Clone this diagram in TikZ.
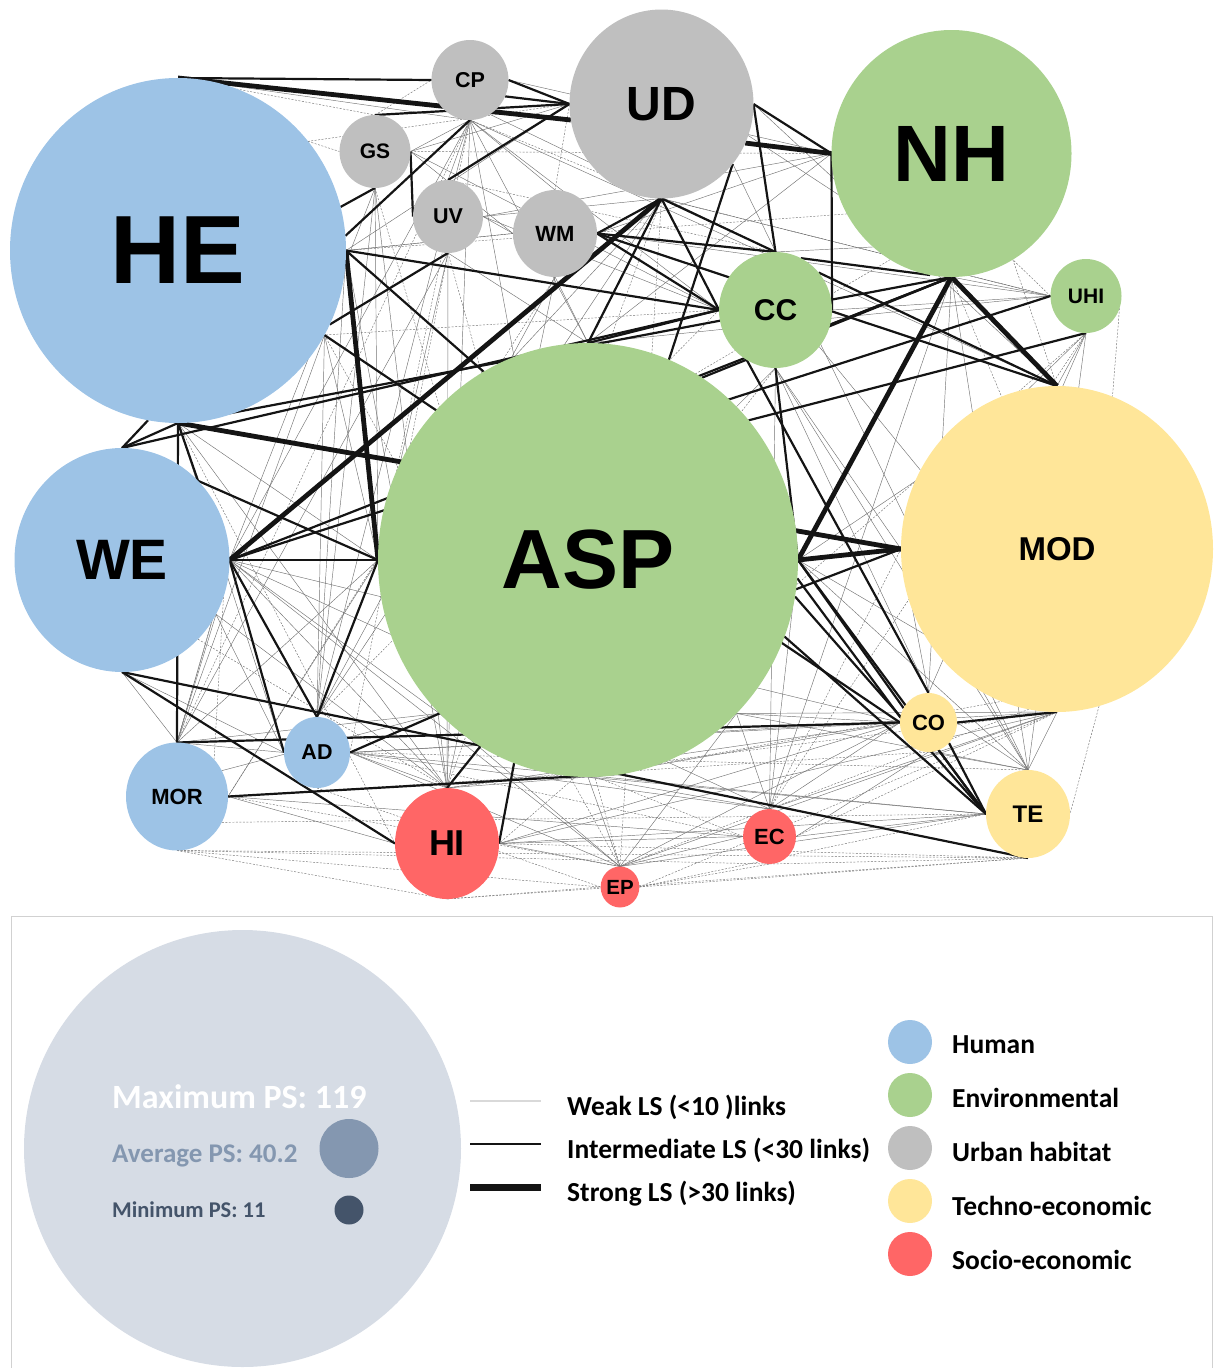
\documentclass[tikz,border=0pt]{standalone}
\usepackage{fontspec}
\usetikzlibrary{shapes.geometric}
\newfontfamily\labfont{Liberation Sans}
\newfontfamily\legfont{Carlito}
\definecolor{human}{HTML}{9DC3E6}
\definecolor{envir}{HTML}{A9D18E}
\definecolor{urban}{HTML}{BFBFBF}
\definecolor{techno}{HTML}{FFE699}
\definecolor{socio}{HTML}{FF6666}
\definecolor{legbg}{HTML}{D6DCE5}
\definecolor{avgc}{HTML}{8497B0}
\definecolor{minc}{HTML}{44546A}
\pgfdeclarelayer{bg}
\pgfsetlayers{bg,main}
\newcommand\nfs[1]{\labfont\bfseries\fontsize{#1}{#1}\selectfont}
\newcommand\lgf[1]{\legfont\bfseries\fontsize{#1}{#1}\selectfont}
\begin{document}
\begin{tikzpicture}[x=1pt,y=-1pt,
  bub/.style={ellipse, inner sep=0pt, outer sep=0pt, draw=none},
  weak/.style={draw=black!55, line width=0.45pt},
  weakd/.style={draw=black!55, line width=0.45pt, dash pattern=on 2pt off 1.5pt},
  mid/.style={draw=black!92, line width=2.2pt},
  strong/.style={draw=black!92, line width=4.8pt},
  legtxt/.style={anchor=base west, inner sep=0pt, font=\lgf{27.5}, text=black}]
\useasboundingbox (0,0) rectangle (1214,1368);

% ---------- nodes ----------
\node[bub, fill=human, minimum width=336pt, minimum height=345pt, font=\nfs{97}] (HE) at (178,250.5) {HE};
\node[bub, fill=urban, minimum width=77pt, minimum height=80pt, font=\nfs{21.5}] (CP) at (470,80) {CP};
\node[bub, fill=urban, minimum width=71pt, minimum height=73pt, font=\nfs{21}] (GS) at (375,151.5) {GS};
\node[bub, fill=urban, minimum width=70pt, minimum height=73pt, font=\nfs{21.5}] (UV) at (448,216.5) {UV};
\node[bub, fill=urban, minimum width=84pt, minimum height=87pt, font=\nfs{22}] (WM) at (555,233.5) {WM};
\node[bub, fill=urban, minimum width=184pt, minimum height=189pt, font=\nfs{48}] (UD) at (661.5,104) {UD};
\node[bub, fill=envir, minimum width=240pt, minimum height=247pt, font=\nfs{80}] (NH) at (951.5,153.5) {NH};
\node[bub, fill=envir, minimum width=113pt, minimum height=116pt, font=\nfs{30}] (CC) at (775.5,310) {CC};
\node[bub, fill=envir, minimum width=71pt, minimum height=74pt, font=\nfs{21}] (UHI) at (1086,296) {UHI};
\node[bub, fill=envir, minimum width=420pt, minimum height=434pt, font=\nfs{84}] (ASP) at (588,560) {ASP};
\node[bub, fill=techno, minimum width=312pt, minimum height=326pt, font=\nfs{33}] (MOD) at (1057,549) {MOD};
\node[bub, fill=human, minimum width=215pt, minimum height=224pt, font=\nfs{57}] (WE) at (122,560) {WE};
\node[bub, fill=human, minimum width=66pt, minimum height=71pt, font=\nfs{21.5}] (AD) at (317,752.5) {AD};
\node[bub, fill=human, minimum width=102pt, minimum height=108pt, font=\nfs{22}] (MOR) at (177,796.5) {MOR};
\node[bub, fill=socio, minimum width=104pt, minimum height=111pt, font=\nfs{36}] (HI) at (447,843.5) {HI};
\node[bub, fill=socio, minimum width=38pt, minimum height=41pt, font=\nfs{20.5}] (EP) at (620,887) {EP};
\node[bub, fill=socio, minimum width=53pt, minimum height=55pt, font=\nfs{22}] (EC) at (769.5,836.5) {EC};
\node[bub, fill=techno, minimum width=57pt, minimum height=59pt, font=\nfs{22}] (CO) at (928.5,722.5) {CO};
\node[bub, fill=techno, minimum width=84pt, minimum height=88pt, font=\nfs{24}] (TE) at (1028,814) {TE};

% ---------- links ----------
\begin{pgfonlayer}{bg}
\foreach \a/\b in {
 CP.south/UV.north, CP.south/WM.north, CP.south/ASP.north, CP.south/ASP.110, CP.south/CC.west,
 CP.south/AD.north, CP.south/WE.east, CP.south/HI.north, CP.south/GS.east, CP.south/MOD.north,
 CP.-60/CC.north, CP.east/NH.west, GS.south/ASP.west, GS.south/WE.east, GS.south/AD.north,
 GS.south/HI.north, GS.east/CC.west, GS.east/UD.west, GS.east/WM.west, UV.south/ASP.west,
 UV.south/ASP.north, UV.south/MOR.north, UV.south/HI.north, UV.east/WM.west, UV.east/CC.west,
 UV.east/UD.south, UV.east/NH.west, WM.south/ASP.north, WM.south/AD.north, WM.south/HI.north,
 WM.east/UD.south, WM.east/NH.west, WM.east/UHI.west, UD.south/ASP.110, UD.south/AD.north,
 UD.-20/NH.-160, UD.south/UHI.west, UD.south/MOD.north, UD.east/MOD.north, UD.-40/TE.north,
 NH.south/UHI.west, NH.south/CO.north, NH.south/TE.north, NH.south/EC.north, NH.west/ASP.north,
 NH.-130/CC.north, UHI.south/MOD.north, UHI.south/CO.north, UHI.south/TE.north, UHI.south/MOD.100,
 UHI.west/CC.east, UHI.west/ASP.north, CC.south/CO.north, CC.south/TE.north, CC.south/EC.north,
 CC.south/ASP.north east, CC.-40/MOD.150, CC.south/MOD.west, HE.east/UD.west, HE.east/WM.west,
 HE.east/AD.north, HE.east/HI.north, HE.-30/ASP.west, HE.-30/MOR.north, HE.-30/AD.north,
 HE.south/ASP.west, HE.south/HI.north, HE.south/AD.west, HE.north/CP.south, WE.east/HI.north,
 WE.east/EC.north, WE.east/EP.north, WE.east/CO.west, WE.east/ASP.south west, WE.-30/MOR.north,
 WE.-30/AD.west, WE.-30/HI.north, WE.south/MOR.north, WE.south/AD.west, MOR.north/ASP.west,
 MOR.north/ASP.south west, MOR.north/AD.west, MOR.north/WE.east, MOR.east/HI.west, MOR.east/EC.west,
 MOR.east/ASP.west, MOR.30/ASP.south west, AD.east/CO.west, AD.east/EC.north, AD.east/EP.north,
 AD.east/TE.west, AD.east/HI.north, AD.east/MOD.south, HI.north/ASP.south, HI.east/EC.west,
 HI.east/EP.north, HI.east/CO.west, HI.east/TE.west, HI.east/MOD.south, HI.north/CO.west,
 EP.north/ASP.south, EP.north/ASP.south east, EP.north/CO.west, EP.north/MOD.south, EP.north/EC.west,
 EP.north/TE.west, EP.north/ASP.south west, EC.north/ASP.south, EC.north/ASP.south east, EC.north/CO.west,
 EC.north/MOD.south, EC.north/ASP.east, EC.east/TE.west, EC.east/CO.south, CO.west/ASP.south east,
 CO.north/MOD.west, CO.south/TE.north, CO.east/TE.north, TE.north/ASP.east, TE.north/MOD.south,
 TE.north/ASP.south east, TE.north/MOD.west, ASP.east/MOD.north, ASP.east/MOD.south,
 ASP.south east/MOD.south, ASP.south/TE.west, ASP.south/CO.west}
 \draw[weak] (\a) -- (\b);
\foreach \a/\b in {
 MOR.south/TE.south, MOR.south/EP.west, MOR.south/HI.south, MOR.south/EC.south, MOR.-30/TE.west,
 HI.south/EP.west, HI.south/TE.south, HI.east/TE.south, EP.east/TE.south, EP.east/EC.south,
 EP.east/TE.west, EP.east/MOD.south, EC.east/MOD.south, EC.south/TE.south, MOD.-75/TE.east,
 UHI.-20/MOD.70, UHI.west/NH.-60, NH.-60/MOD.north, NH.south/MOD.110, HE.north/GS.north,
 HE.40/GS.west, GS.north/CP.west, CP.east/UD.west, CP.south/UD.south, CP.south/ASP.west,
 GS.south/ASP.north west, UV.south/AD.east, WE.east/MOR.north, WE.south east/HI.north, WE.-20/MOR.45,
 HE.south/HI.west, HE.-30/EP.north, AD.south/EP.west, AD.east/EC.west, AD.east/TE.north,
 MOR.east/CO.south, MOR.east/EP.north, ASP.south west/EC.west, HI.north/MOD.south, ASP.south/MOD.-110,
 WM.west/HE.east, UD.west/HE.40, UD.south/HI.north, UD.south/EP.north, CC.west/HE.-30,
 NH.-150/HE.east, UHI.west/UD.south, UHI.south/EC.north, CC.south/HI.north, MOD.west/EC.north,
 MOD.-100/EP.north, UV.north/CC.north, GS.east/NH.west, WM.north/UD.west, CP.south/MOR.north,
 UV.south/EP.north, WM.south/MOR.east, CC.west/AD.north, NH.-120/ASP.west, UHI.south/HI.east}
 \draw[weakd] (\a) -- (\b);
\foreach \a/\b in {
 HE.north/CP.west, HE.north/CP.-140, GS.north/UD.west, CP.east/UD.west, CP.-25/UD.west,
 CP.south/HE.5, GS.south/HE.15, GS.east/UV.west, UV.north/UD.west, UV.south/HE.-26,
 HE.east/CC.west, HE.east/TE.west, UD.south/WM.east, UD.south/ASP.north, UD.south/CC.west,
 UD.south/CC.north, UD.-40/ASP.68, UD.east/CC.north, UD.east/NH.west, NH.west/CC.east,
 CC.64/NH.-100, CC.-15/NH.south, NH.south/ASP.58, WM.east/CC.west, WM.east/CC.north,
 WM.east/MOD.north, CC.41/MOD.north, CC.west/ASP.north, CC.south/ASP.east, CC.-120/CO.north,
 UHI.south/ASP.41, ASP.east/CO.150, ASP.-5/CO.170, ASP.east/TE.west, ASP.-10/TE.west,
 ASP.-8/MOD.west, CO.-70/TE.west, CO.-45/TE.west, MOD.south/CO.east, MOR.north/CO.west,
 WE.south/TE.south, WE.south/HI.west, HE.south/MOR.north, MOR.east/ASP.-80, AD.east/ASP.south west,
 AD.north/ASP.west, WE.east/AD.north, WE.east/AD.west, WE.east/ASP.west, WE.east/NH.south,
 WE.east/UHI.west, WE.north/CC.west, HE.south/WE.north, HE.-100/WE.north, HE.south/WE.north east,
 WE.north east/ASP.west, HE.south/NH.south, HI.north/ASP.240, HI.east/ASP.250, HE.-30/CO.west}
 \draw[mid] (\a) -- (\b);
\foreach \a/\b in {
 HE.north/UD.190, UD.-25/NH.west, UD.south/WE.east, HE.south/MOD.west, HE.east/ASP.west,
 NH.south/MOD.north, NH.south/ASP.east, ASP.east/MOD.west}
 \draw[strong] (\a) -- (\b);
\end{pgfonlayer}

% ---------- legend ----------
\draw[draw=black!18, line width=1pt] (11.5,1400) -- (11.5,916.5) -- (1212.5,916.5) -- (1212.5,1400);
\node[circle, fill=legbg, minimum size=437pt, inner sep=0pt] (LG) at (242.5,1148.5) {};
\node[circle, fill=avgc, minimum size=59pt, inner sep=0pt] (LA) at (349,1148.5) {};
\node[circle, fill=minc, minimum size=29pt, inner sep=0pt] (LM) at (349,1210) {};
\node[anchor=base west, inner sep=0pt, text=white, font=\lgf{34}] (tmax) at (112,1108) {Maximum PS: 119};
\node[anchor=base west, inner sep=0pt, text=avgc, font=\lgf{27}] (tavg) at (112,1162) {Average PS: 40.2};
\node[anchor=base west, inner sep=0pt, text=minc, font=\lgf{22.5}] (tmin) at (112,1217) {Minimum PS: 11};

\coordinate (lw1) at (470,1101);   \coordinate (lw2) at (541,1101);
\coordinate (li1) at (470,1144);   \coordinate (li2) at (541,1144);
\coordinate (ls1) at (470,1187.5); \coordinate (ls2) at (541,1187.5);
\draw[draw=black!15, line width=1.6pt] (lw1) -- (lw2);
\draw[draw=black!92, line width=2.6pt] (li1) -- (li2);
\draw[draw=black!92, line width=6.5pt] (ls1) -- (ls2);
\node[legtxt] (lwt) at (567,1115) {Weak LS (<10 )links};
\node[legtxt] (lit) at (567,1158) {Intermediate LS (<30 links)};
\node[legtxt] (lst) at (567,1201.5) {Strong LS (>30 links)};

\node[circle, fill=human, minimum size=44pt, inner sep=0pt] (c1) at (910,1042) {};
\node[circle, fill=envir, minimum size=44pt, inner sep=0pt] (c2) at (910,1095) {};
\node[circle, fill=urban, minimum size=44pt, inner sep=0pt] (c3) at (910,1148) {};
\node[circle, fill=techno, minimum size=44pt, inner sep=0pt] (c4) at (910,1201) {};
\node[circle, fill=socio, minimum size=44pt, inner sep=0pt] (c5) at (910,1254) {};
\node[legtxt] (t1) at (952,1053) {Human};
\node[legtxt] (t2) at (952,1107) {Environmental};
\node[legtxt] (t3) at (952,1161.5) {Urban habitat};
\node[legtxt] (t4) at (952,1215) {Techno-economic};
\node[legtxt] (t5) at (952,1269) {Socio-economic};
\end{tikzpicture}
\end{document}
